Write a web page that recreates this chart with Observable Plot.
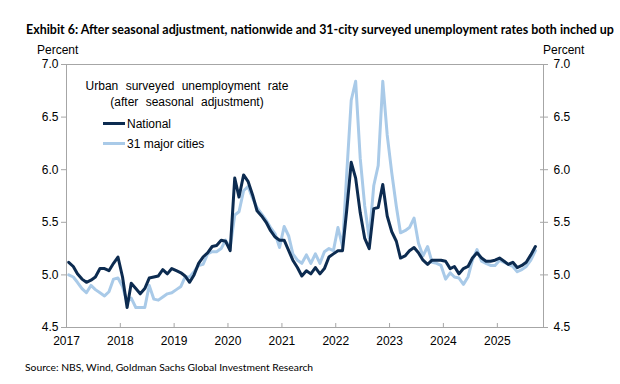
<!DOCTYPE html>
<html>
<head>
<meta charset="utf-8">
<script src="https://cdn.jsdelivr.net/npm/d3@7"></script>
<script src="https://cdn.jsdelivr.net/npm/@observablehq/plot@0.6"></script>
<style>
  body { margin: 0; background: #fff; }
  #wrap { position: relative; width: 620px; height: 384px; overflow: hidden; font-family: "Liberation Sans", Arial, sans-serif; color: #000; }
  #title { position: absolute; left: 26px; top: 22px; white-space: nowrap; font-family: Lato, sans-serif; font-weight: bold; font-size: 12.45px; line-height: 16px; }
  .unit { position: absolute; top: 42px; font-size: 12px; line-height: 16px; }
  #chart { position: absolute; left: 0; top: 42px; }
  #legend { position: absolute; left: 76px; top: 78px; font-size: 12px; line-height: 16px; }
  #legend .head { word-spacing: 4px; text-align: center; width: 222px; }
  #legend .row { position: absolute; left: 27px; white-space: nowrap; }
  #legend .key { display: inline-block; width: 22px; height: 3px; vertical-align: middle; margin-right: 2px; position: relative; top: -1px; }
  #source { position: absolute; left: 25px; top: 360px; font-family: Lato, sans-serif; font-size: 10.3px; line-height: 14px; white-space: nowrap; }
</style>
</head>
<body>
<div id="wrap">
  <div id="title">Exhibit 6: After seasonal adjustment, nationwide and 31-city surveyed unemployment rates both inched up</div>
  <div class="unit" style="left:37px">Percent</div>
  <div class="unit" style="left:543px">Percent</div>
  <div id="chart"></div>
  <div id="legend"></div>
  <div id="source">Source: NBS, Wind, Goldman Sachs Global Investment Research</div>
</div>
<script>
// Monthly values, Jan 2017 – Sep 2025 (percent, seasonally adjusted)
const national = [
  5.12,5.08,5.01,4.96,4.93,4.95,4.98,5.06,5.06,5.04,5.11,5.17,
  4.98,4.69,4.92,4.87,4.82,4.87,4.97,4.98,4.99,5.05,5.01,5.06,
  5.04,5.02,4.99,4.93,5.00,5.11,5.17,5.21,5.27,5.28,5.33,5.32,
  5.23,5.92,5.74,5.95,5.89,5.76,5.61,5.56,5.50,5.42,5.36,5.33,
  5.33,5.23,5.14,5.07,4.99,5.04,5.01,5.07,5.01,5.06,5.17,5.20,
  5.23,5.23,5.61,6.07,5.92,5.59,5.35,5.25,5.63,5.64,5.86,5.56,
  5.41,5.32,5.16,5.18,5.23,5.26,5.21,5.14,5.10,5.14,5.14,5.14,
  5.13,5.06,5.08,5.01,5.06,5.08,5.16,5.21,5.16,5.13,5.13,5.14,
  5.16,5.13,5.10,5.12,5.07,5.09,5.12,5.19,5.27
];
const cities = [
  5.00,4.98,4.93,4.87,4.83,4.90,4.86,4.83,4.80,4.84,4.96,4.97,
  4.89,4.74,4.78,4.69,4.69,4.69,4.90,4.77,4.76,4.79,4.82,4.83,
  4.86,4.89,4.98,4.98,5.03,5.09,5.10,5.20,5.22,5.22,5.25,5.33,
  5.26,5.57,5.60,5.80,5.84,5.73,5.64,5.58,5.52,5.45,5.39,5.26,
  5.46,5.37,5.20,5.14,5.11,5.19,5.11,5.20,5.11,5.22,5.25,5.23,
  5.45,5.27,5.95,6.66,6.84,6.11,5.66,5.35,5.85,6.04,6.84,6.33,
  5.97,5.65,5.40,5.42,5.45,5.54,5.30,5.18,5.27,5.12,5.11,5.09,
  4.96,5.02,4.98,4.97,4.91,4.98,5.14,5.24,5.13,5.11,5.09,5.09,
  5.14,5.12,5.10,5.08,5.03,5.05,5.08,5.14,5.23
];
const seriesNames = ["National", "31 major cities"];
const seriesColors = ["#0c2b50", "#a9cae8"];
const yTicks = [4.5, 5.0, 5.5, 6.0, 6.5, 7.0];
const yearTicks = [2017, 2018, 2019, 2020, 2021, 2022, 2023, 2024, 2025];
const legendTitle = ["Urban surveyed unemployment rate", "(after seasonal adjustment)"];

const dates = national.map((_, i) => new Date(Date.UTC(2017, i, 16)));
const rowsNat = dates.map((d, i) => ({date: d, value: national[i]}));
const rowsCity = dates.map((d, i) => ({date: d, value: cities[i]}));
const xTicks = yearTicks.map(y => new Date(Date.UTC(y, 0, 1)));
const gray = "#a6a6a6";

const chart = Plot.plot({
  width: 620,
  height: 310,
  marginTop: 22,
  marginBottom: 25,
  marginLeft: 66,
  marginRight: 77,
  style: {fontFamily: "'Liberation Sans', Arial, sans-serif", fontSize: "12px", color: "#000", background: "transparent"},
  x: {type: "utc", domain: [new Date(Date.UTC(2017, 0, 1)), new Date(Date.UTC(2025, 10, 10))]},
  y: {domain: [4.5, 7.0]},
  marks: [
    Plot.frame({stroke: gray}),
    Plot.axisY({anchor: "left", ticks: yTicks, tickFormat: d3.format(".1f"), tickSize: 5, tickPadding: 3, stroke: gray, label: null, fontSize: 12}),
    Plot.axisY({anchor: "right", ticks: yTicks, tickFormat: d3.format(".1f"), tickSize: 4, tickPadding: 6, stroke: gray, label: null, fontSize: 12}),
    Plot.axisY({anchor: "right", ticks: yTicks, tickSize: -4, text: null, stroke: gray, label: null}),
    Plot.axisX({ticks: xTicks, tickFormat: d3.utcFormat("%Y"), tickSize: 0, tickPadding: 9, label: null, fontSize: 12}),
    Plot.axisX({ticks: xTicks, tickSize: -4, text: null, stroke: gray, label: null}),
    Plot.lineY(rowsCity, {x: "date", y: "value", stroke: seriesColors[1], strokeWidth: 3}),
    Plot.lineY(rowsNat, {x: "date", y: "value", stroke: seriesColors[0], strokeWidth: 3})
  ]
});
document.getElementById("chart").appendChild(chart);

const legend = document.getElementById("legend");
legend.innerHTML =
  `<div class="head">${legendTitle[0]}</div><div class="head">${legendTitle[1]}</div>` +
  seriesNames.map((n, i) => `<div class="row" style="top:${38 + i * 20}px"><span class="key" style="background:${seriesColors[i]}"></span>${n}</div>`).join("");
</script>
</body>
</html>
